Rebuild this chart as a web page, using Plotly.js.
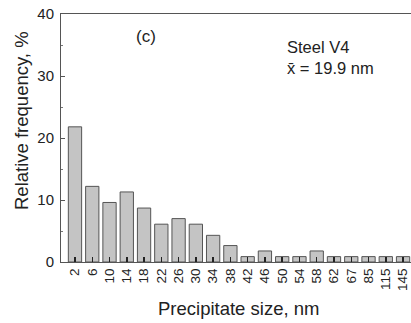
<!DOCTYPE html>
<html>
<head>
<meta charset="utf-8">
<script src="https://cdn.plot.ly/plotly-3.0.1.min.js"></script>
<style>html,body{margin:0;padding:0;background:#fff;}#chart{width:411px;height:323px;}</style>
</head>
<body>
<div id="chart"></div>
<script>
const sizes = ["2","6","10","14","18","22","26","30","34","38","42","46","50","54","58","62","67","85","115","145"];
const frequency = [21.8,12.2,9.6,11.3,8.7,6.1,7.0,6.1,4.3,2.65,0.87,1.78,0.87,0.87,1.78,0.87,0.87,0.87,0.87,0.87];
const yTicks = [0, 10, 20, 30, 40];
const yMinorTicks = [5, 15, 25, 35];
const panelLabel = "(c)";
const steelLabel = "Steel V4";
const meanLabel = "x\u0304 = 19.9 nm";
const xTitle = "Precipitate size, nm";
const yTitle = "Relative frequency, %";

const font = "Liberation Sans, Arial, sans-serif";
const trace = {
  type: "bar",
  x: sizes,
  y: frequency,
  width: 0.77,
  marker: {color: "#c4c4c4", line: {color: "#555555", width: 1}},
  hoverinfo: "skip"
};
const L = 61, T = 14, W = 350, H = 248;
const px = x => (x - L) / W;
const py = y => (T + H - y) / H;
const layout = {
  width: 411, height: 323,
  margin: {l: L, r: 0, t: T, b: 323 - T - H},
  paper_bgcolor: "#fff", plot_bgcolor: "#fff",
  showlegend: false,
  font: {family: font, color: "#222", size: 13},
  xaxis: {
    type: "category",
    range: [-0.81, 19.46],
    tickangle: -90,
    ticks: "inside", ticklen: 5, tickwidth: 1.5, tickcolor: "#222",
    showline: true, linecolor: "#555", linewidth: 1, mirror: true,
    showgrid: false, zeroline: false,
    tickfont: {family: font, size: 13.5, color: "#222"}
  },
  yaxis: {
    range: [0, 40],
    tickvals: yTicks,
    ticks: "inside", ticklen: 4, tickcolor: "#555",
    minor: {tickvals: yMinorTicks, ticks: "inside", ticklen: 2, tickcolor: "#777"},
    showline: true, linecolor: "#555", linewidth: 1,
    showgrid: false, zeroline: false,
    ticklabelstandoff: 3,
    tickfont: {family: font, size: 15, color: "#222"}
  },
  annotations: [
    {xref: "paper", yref: "paper", x: px(146), y: py(36.5), text: panelLabel, showarrow: false, xanchor: "center", yanchor: "middle", font: {family: font, size: 17, color: "#222"}},
    {xref: "paper", yref: "paper", x: px(285), y: py(46.7), text: steelLabel, showarrow: false, xanchor: "left", yanchor: "middle", font: {family: font, size: 16.5, color: "#222"}},
    {xref: "paper", yref: "paper", x: px(285), y: py(68.3), text: meanLabel, showarrow: false, xanchor: "left", yanchor: "middle", font: {family: font, size: 16.5, color: "#222"}},
    {xref: "paper", yref: "paper", x: px(238.5), y: py(308), text: xTitle, showarrow: false, xanchor: "center", yanchor: "middle", font: {family: font, size: 18.5, color: "#222"}},
    {xref: "paper", yref: "paper", x: px(22), y: py(121), text: yTitle, textangle: -90, showarrow: false, xanchor: "center", yanchor: "middle", font: {family: font, size: 18.5, color: "#222"}}
  ]
};
Plotly.newPlot("chart", [trace], layout, {staticPlot: true, displayModeBar: false});
</script>
</body>
</html>
